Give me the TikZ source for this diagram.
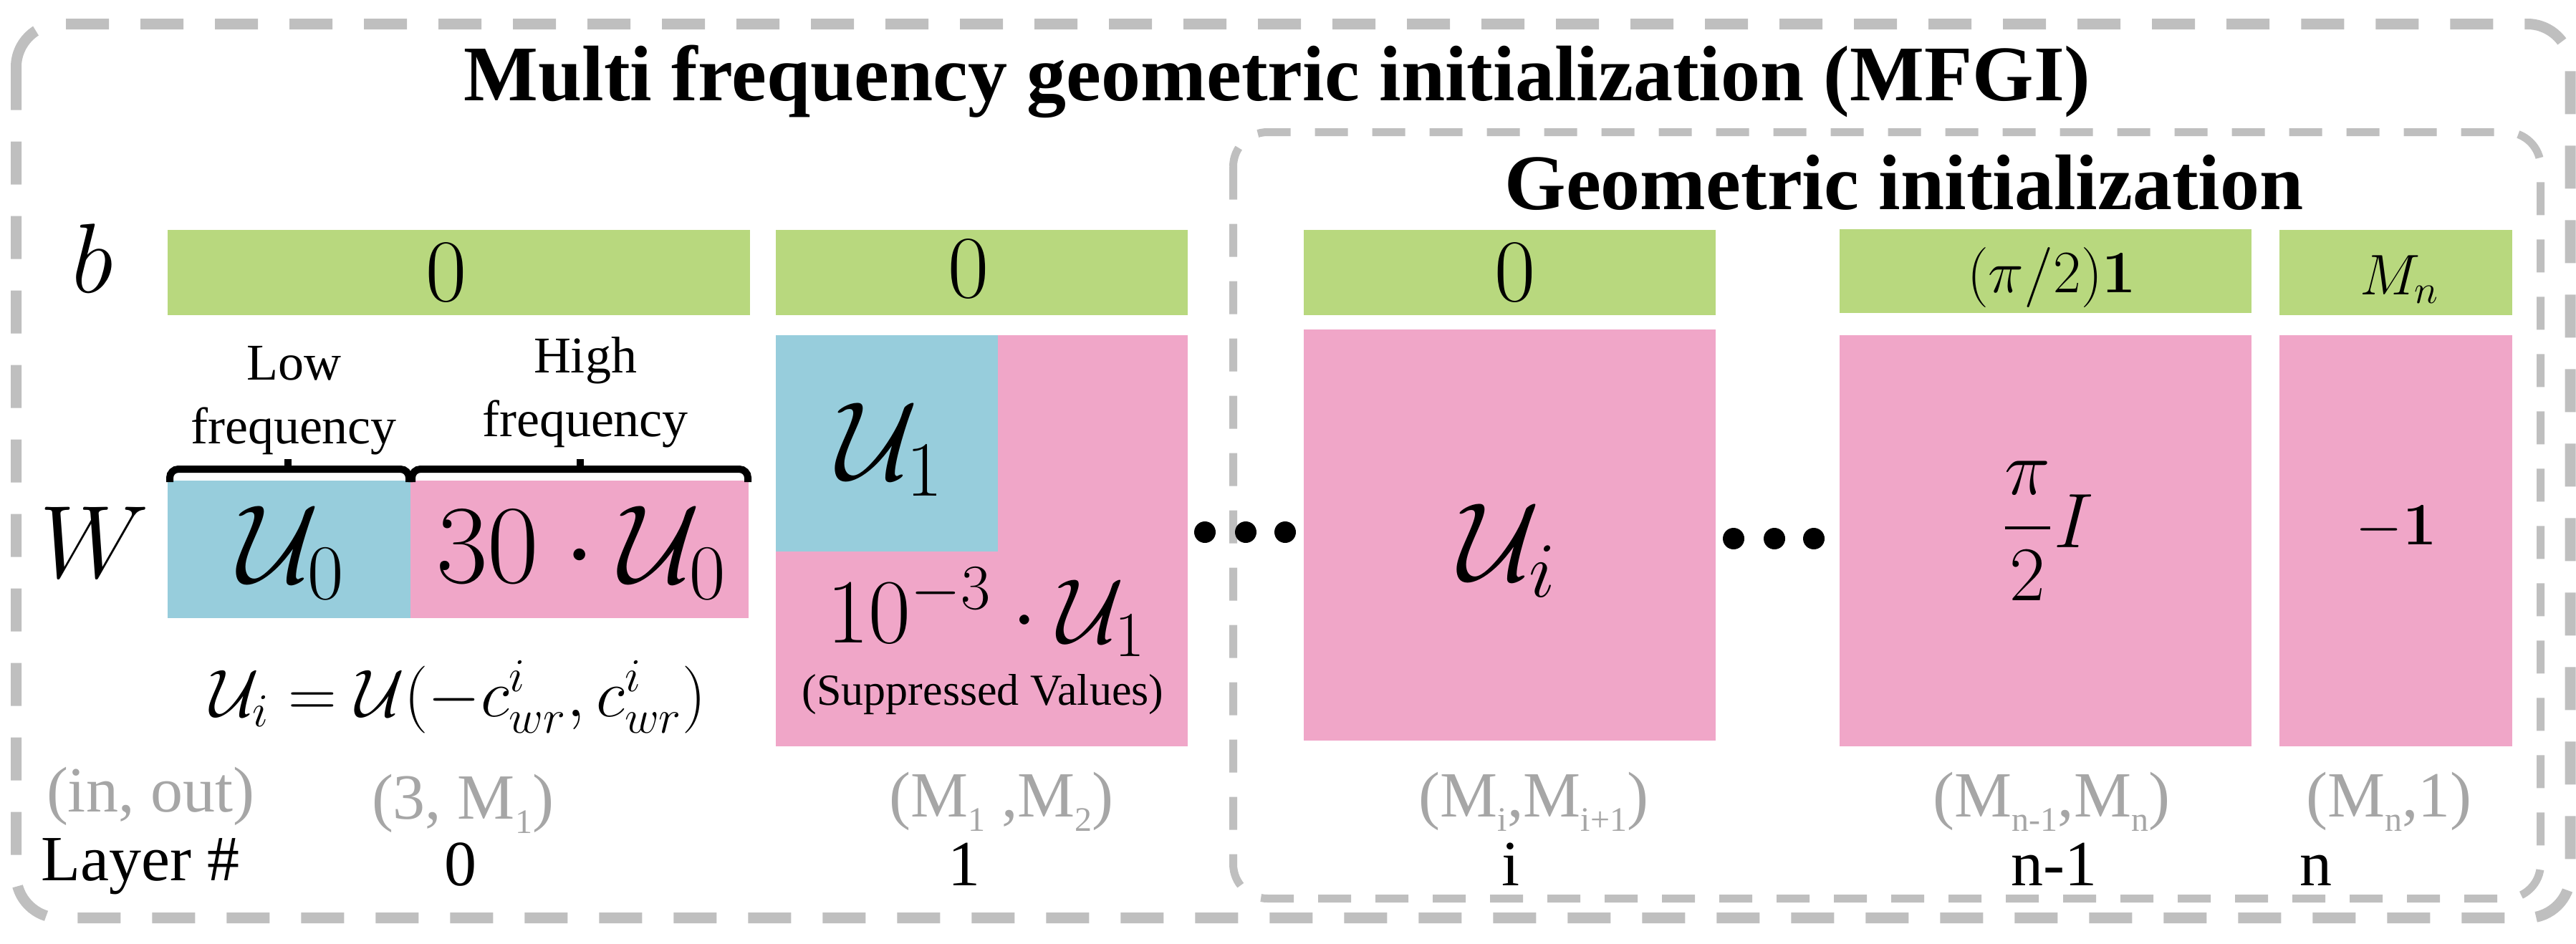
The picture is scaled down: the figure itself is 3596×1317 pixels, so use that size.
\RequirePackage{fix-cm}
\documentclass[tikz,border=0pt]{standalone}
\usepackage{amsmath}
\usepackage[no-math]{fontspec}
\setmainfont{Liberation Serif}
\definecolor{gbar}{HTML}{B8D87E}
\definecolor{bbar}{HTML}{97CDDC}
\definecolor{pbar}{HTML}{F0A6C8}
\definecolor{dashgray}{HTML}{BFBFBF}
\definecolor{gtxt}{HTML}{A6A6A6}
\newcommand\fsz[2]{\fontsize{#1}{#2}\selectfont}
\newcommand\sbx[1]{\raisebox{-5pt}{\fsz{12pt}{12pt}#1}}
\tikzset{
  every node/.style={inner sep=0pt, outer sep=0pt},
  fs/.style={font=\fsz{#1}{#1}},
  titlefont/.style={font={\fsz{27.5pt}{27.5pt}\bfseries}},
  outerbox/.style={draw=dashgray, line width=3.75pt, rounded corners=15pt, dash pattern=on 15pt off 11pt},
  innerbox/.style={draw=dashgray, line width=2.75pt, rounded corners=12pt, dash pattern=on 11.5pt off 8.5pt},
  greenfill/.style={fill=gbar},
  bluefill/.style={fill=bbar},
  pinkfill/.style={fill=pbar},
  shapelab/.style={text=gtxt, fs=22.5pt, anchor=base},
  layerlab/.style={fs=22.5pt, anchor=base},
  bracestyle/.style={draw=black, line width=2.5pt, rounded corners=3pt},
  dotstyle/.style={fill=black},
}
\begin{document}
\begin{tikzpicture}[x=0.25pt,y=-0.25pt]
\useasboundingbox (0,0) rectangle (3596,1317);
% frames
\draw[outerbox] (22.5,33.5) rectangle (3588,1281.5);
\draw[innerbox] (1721.5,184.5) rectangle (3546.5,1254.5);
% titles
\node[titlefont, anchor=base] (title) at (1783,140) {Multi frequency geometric initialization (MFGI)};
\node[titlefont, anchor=base] (geo) at (2658,292) {Geometric initialization};
% row labels
\node[anchor=base, fs=34.5pt] (blab) at (129,408) {$b$};
\node[anchor=base, fs=36pt] (wlab) at (132,806) {$W$};
% bias bars
\fill[greenfill] (234,321) rectangle (1047,440);
\fill[greenfill] (1083,321) rectangle (1658,440);
\fill[greenfill] (1820,321) rectangle (2395,440);
\fill[greenfill] (2568,320) rectangle (3143,437);
\fill[greenfill] (3182,321) rectangle (3507,440);
\node[anchor=base, fs=31pt] (b0) at (623,420) {$0$};
\node[anchor=base, fs=31pt] (b1) at (1352,415) {$0$};
\node[anchor=base, fs=31pt] (bi) at (2115,420) {$0$};
\node[anchor=base, fs=21pt] (bn1) at (2864,408) {$(\pi/2)\mathbf{1}$};
\node[anchor=base, fs=20pt] (bn) at (3350,411) {$M_n$};
% layer 0 weights
\fill[bluefill] (234,671) rectangle (573,863);
\fill[pinkfill] (573,671) rectangle (1045,863);
\node[anchor=base, fs=39pt] (w0a) at (407,813) {$\mathcal{U}_0$};
\node[anchor=base, fs=39pt] (w0b) at (812,813) {$30\cdot\mathcal{U}_0$};
% braces
\draw[bracestyle] (237,673) -- (237,655) -- (571,655) -- (571,673);
\draw[bracestyle] (575,673) -- (575,655) -- (1044,655) -- (1044,673);
\draw[draw=black, line width=2.5pt] (402,656) -- (402,641);
\draw[draw=black, line width=2.5pt] (810,656) -- (810,641);
\node[align=center, font={\fsz{18pt}{22.25pt}}] (lowf) at (410,559) {Low\\frequency};
\node[align=center, font={\fsz{18pt}{22.25pt}}] (highf) at (817,548) {High\\frequency};
\node[anchor=base, fs=23.5pt] (udef) at (640,1000) {$\mathcal{U}_i=\mathcal{U}(-c^i_{wr},c^i_{wr})$};
% layer 1 weights
\fill[pinkfill] (1083,468) rectangle (1658,1042);
\fill[bluefill] (1083,468) rectangle (1393,770);
\node[anchor=base, fs=39pt] (w1a) at (1243,669) {$\mathcal{U}_1$};
\node[anchor=base, fs=32pt] (w1b) at (1377,897) {$10^{-3}\cdot\mathcal{U}_1$};
\node[anchor=base, fs=15.5pt] (supp) at (1372,984) {(Suppressed Values)};
% dots
\fill[dotstyle] (1682,743) circle[radius=15];
\fill[dotstyle] (1739,743) circle[radius=15];
\fill[dotstyle] (1794,743) circle[radius=15];
\fill[dotstyle] (2420,752) circle[radius=15];
\fill[dotstyle] (2477,752) circle[radius=15];
\fill[dotstyle] (2532,752) circle[radius=15];
% layer i, n-1, n weights
\fill[pinkfill] (1820,460) rectangle (2395,1034);
\fill[pinkfill] (2568,468) rectangle (3143,1042);
\fill[pinkfill] (3182,468) rectangle (3507,1042);
\node[anchor=base, fs=39pt] (wi) at (2105,810) {$\mathcal{U}_i$};
\node[anchor=base, fs=27pt] (wn1) at (2858,764) {$\displaystyle\frac{\pi}{2}I$};
\node[anchor=base, fs=21pt] (wn) at (3345,760) {$-\mathbf{1}$};
% shapes
\node[shapelab] (s0) at (210,1133) {(in, out)};
\node[shapelab] (s1) at (646,1143) {(3, M\sbx{1})};
\node[shapelab] (s2) at (1398,1140) {(M\sbx{1} ,M\sbx{2})};
\node[shapelab] (s3) at (2141,1140) {(M\sbx{i},M\sbx{i+1})};
\node[shapelab] (s4) at (2864,1140) {(M\sbx{n-1},M\sbx{n})};
\node[shapelab] (s5) at (3335,1140) {(M\sbx{n},1)};
% layer numbers
\node[layerlab] (l0) at (196,1229) {Layer \#};
\node[layerlab] (n0) at (643,1236) {0};
\node[layerlab] (n1) at (1346,1236) {1};
\node[layerlab] (ni) at (2109,1236) {i};
\node[layerlab] (nn1) at (2867,1236) {n-1};
\node[layerlab] (nn) at (3233,1236) {n};
\end{tikzpicture}
\end{document}
